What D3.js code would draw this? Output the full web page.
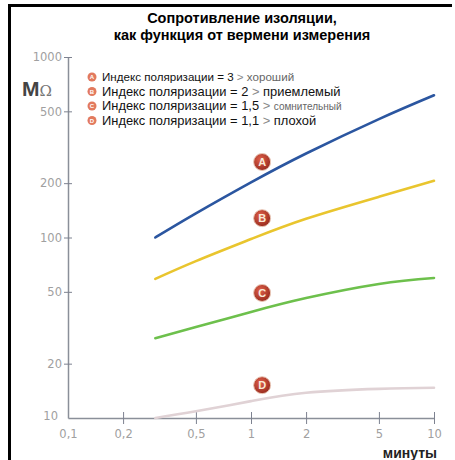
<!DOCTYPE html>
<html>
<head>
<meta charset="utf-8">
<script src="https://cdn.jsdelivr.net/npm/d3@7"></script>
<style>
  body { margin: 0; background: #fff; }
  text { font-family: "Liberation Sans", Arial, sans-serif; }
</style>
</head>
<body>
<script>
// data
var minutes = [0.3, 0.5, 1, 2, 5, 10];
var seriesA = [100, 136, 202, 292, 453, 614];
var seriesB = [59, 74, 98, 127, 168, 206];
var seriesC = [27.7, 31.9, 38.7, 46.2, 55.3, 59.7];
var seriesD = [10, 10.9, 12.4, 13.8, 14.5, 14.7];
var letters = ["A", "B", "C", "D"];
var letterX = 1.15;
var letterY = [262, 128, 49.3, 15.2];
var xTicks = [0.1, 0.2, 0.5, 1, 2, 5, 10];
var yTicks = [10, 20, 50, 100, 200, 500, 1000];
var legendIndex = ["3", "2", "1,5", "1,1"];
var legendWord = ["хороший", "приемлемый", "сомнительный", "плохой"];

var svgWidth = 455;
var svgHeight = 460;

var svg = d3.select("body")
  .append("svg")
  .attr("width", svgWidth)
  .attr("height", svgHeight);

// frame
svg.append("path")
  .attr("d", "M9.5,460 V5.5 H452")
  .attr("fill", "none")
  .attr("stroke", "#000")
  .attr("stroke-width", 3);

// title
svg.append("text")
  .attr("x", 242).attr("y", 23)
  .attr("text-anchor", "middle")
  .style("font-size", "14.5px").style("font-weight", "bold")
  .text("Сопротивление изоляции,");
svg.append("text")
  .attr("x", 242).attr("y", 40)
  .attr("text-anchor", "middle")
  .style("font-size", "14.5px").style("font-weight", "bold")
  .text("как функция от вермени измерения");

// scales
var x = d3.scaleLog().domain([0.1, 10]).range([68, 434]);
var y = d3.scaleLog().domain([10, 1000]).range([418, 57]);

function fmt(d) { return String(d).replace(".", ","); }

var xAxis = svg.append("g")
  .attr("transform", "translate(0,418)")
  .call(d3.axisBottom(x).tickValues(xTicks).tickFormat(fmt).tickSizeOuter(0).tickSizeInner(6));
xAxis.select(".domain").attr("stroke", "#8a8f99").attr("stroke-width", 1.5);
xAxis.selectAll(".tick line").attr("y1", -6).attr("y2", 6).attr("stroke", "#7d8290");
xAxis.selectAll(".tick text")
  .attr("y", 12)
  .attr("fill", "#a0a0a0")
  .style("font-size", "11.5px")
  .style("font-family", "'DejaVu Sans', sans-serif");
xAxis.selectAll(".tick").filter(function(d) { return d === 0.1; }).select("line").remove();

var yAxis = svg.append("g")
  .attr("transform", "translate(68,0)")
  .call(d3.axisLeft(y).tickValues(yTicks).tickFormat(fmt).tickSizeOuter(0).tickSizeInner(4));
yAxis.select(".domain").attr("stroke", "#8a8f99").attr("stroke-width", 1.5);
yAxis.selectAll(".tick line").attr("x1", -4).attr("x2", 4).attr("stroke", "#7d8290");
yAxis.selectAll(".tick text")
  .attr("x", -6)
  .attr("fill", "#a0a0a0")
  .style("font-size", "11.5px")
  .style("font-family", "'DejaVu Sans', sans-serif");
yAxis.selectAll(".tick").filter(function(d) { return d === 10; }).select("line").remove();
yAxis.selectAll(".tick").filter(function(d) { return d === 10; }).select("text").attr("x", -10).attr("dy", "0.1em");

// axis titles
var unit = svg.append("text").attr("x", 22).attr("y", 96);
unit.append("tspan").text("M")
  .style("font-size", "21px").style("font-weight", "bold").attr("fill", "#444");
unit.append("tspan").text("Ω")
  .style("font-size", "15px").attr("fill", "#777").style("font-family", "'DejaVu Serif', serif");

svg.append("text")
  .attr("x", 437).attr("y", 458)
  .attr("text-anchor", "end")
  .style("font-size", "14px").style("font-weight", "bold")
  .attr("fill", "#222")
  .text("минуты");

// curves
var series = [seriesA, seriesB, seriesC, seriesD];
var colors = ["#2b56a0", "#e9c52e", "#6dc04c", "#e0d2d5"];

var line = d3.line()
  .x(function(d) { return x(d[0]); })
  .y(function(d) { return y(d[1]); })
  .curve(d3.curveNatural);

series.forEach(function(vals, i) {
  var pts = minutes.map(function(m, j) { return [m, vals[j]]; });
  svg.append("path")
    .datum(pts)
    .attr("d", line)
    .attr("fill", "none")
    .attr("stroke", colors[i])
    .attr("stroke-width", 2.6)
    .attr("stroke-linecap", "round");
});

// letter badges
var defs = svg.append("defs");
var grad = defs.append("radialGradient").attr("id", "badge").attr("cx", "40%").attr("cy", "35%").attr("r", "65%");
grad.append("stop").attr("offset", "0%").attr("stop-color", "#e0604a");
grad.append("stop").attr("offset", "100%").attr("stop-color", "#9a2c1f");

var badges = svg.selectAll(".badge")
  .data(letters)
  .enter()
  .append("g")
  .attr("class", "badge")
  .attr("transform", function(d, i) { return "translate(" + x(letterX) + "," + y(letterY[i]) + ")"; });
badges.append("circle")
  .attr("r", 8.5)
  .attr("fill", "url(#badge)")
  .attr("stroke", "#e9c8b8")
  .attr("stroke-width", 1);
badges.append("text")
  .attr("text-anchor", "middle")
  .attr("dy", "0.36em")
  .attr("fill", "#f8ead8")
  .style("font-size", "11px").style("font-weight", "bold")
  .text(function(d) { return d; });

// legend
var legendY = [81, 95.5, 110, 124.5];
var legend = svg.selectAll(".legend")
  .data(letters)
  .enter()
  .append("g")
  .attr("class", "legend")
  .attr("transform", function(d, i) { return "translate(92," + legendY[i] + ")"; });

legend.append("circle")
  .attr("cy", -4)
  .attr("r", 4.5)
  .attr("fill", "#e27a5e");
legend.append("text")
  .attr("y", -4)
  .attr("dy", "0.36em")
  .attr("text-anchor", "middle")
  .attr("fill", "#fff")
  .style("font-size", "6px").style("font-weight", "bold")
  .text(function(d) { return d; });

var legendText = legend.append("text")
  .attr("x", 10)
  .style("font-size", function(d, i) { return i === 0 ? "11.6px" : "12.9px"; });
legendText.append("tspan")
  .attr("fill", "#111")
  .text(function(d, i) { return "Индекс поляризации = " + legendIndex[i] + " "; });
legendText.append("tspan")
  .attr("fill", "#888")
  .text("> ");
legendText.append("tspan")
  .attr("fill", function(d, i) { return (i === 0 || i === 2) ? "#666" : "#111"; })
  .style("font-size", function(d, i) { return i === 2 ? "10px" : null; })
  .text(function(d, i) { return legendWord[i]; });
</script>
</body>
</html>
